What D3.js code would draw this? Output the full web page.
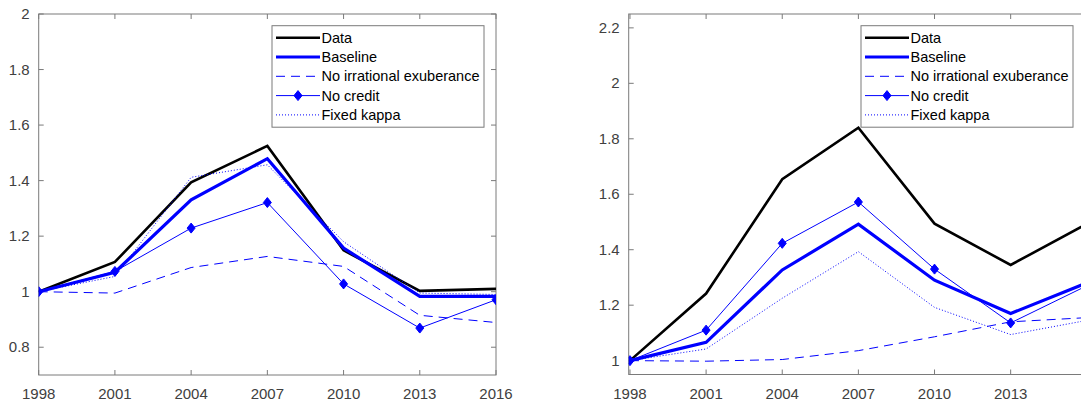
<!DOCTYPE html>
<html>
<head>
<meta charset="utf-8">
<script src="https://cdn.jsdelivr.net/npm/d3@7"></script>
<style>
  body { margin: 0; background: #fff; }
  svg { display: block; font-family: "Liberation Sans", Arial, Helvetica, sans-serif; }
</style>
</head>
<body>
<div id="chart"></div>
<script>
const years = [1998, 2001, 2004, 2007, 2010, 2013, 2016];
const seriesNames = ["Data", "Baseline", "No irrational exuberance", "No credit", "Fixed kappa"];

// left panel
const leftData = [1.0, 1.107, 1.394, 1.525, 1.149, 1.003, 1.01];
const leftBaseline = [1.0, 1.07, 1.331, 1.479, 1.157, 0.983, 0.983];
const leftNoExuberance = [1.0, 0.995, 1.087, 1.127, 1.091, 0.915, 0.889];
const leftNoCredit = [1.0, 1.073, 1.229, 1.321, 1.028, 0.869, 0.971];
const leftFixedKappa = [1.0, 1.055, 1.412, 1.457, 1.18, 0.995, 0.99];
const leftYTicks = [0.8, 1, 1.2, 1.4, 1.6, 1.8, 2];

// right panel
const rightData = [1.0, 1.242, 1.654, 1.84, 1.494, 1.345, 1.493];
const rightBaseline = [1.0, 1.066, 1.327, 1.492, 1.29, 1.17, 1.28];
const rightNoExuberance = [1.0, 0.998, 1.004, 1.036, 1.086, 1.14, 1.155];
const rightNoCredit = [1.0, 1.11, 1.423, 1.572, 1.33, 1.136, 1.27];
const rightFixedKappa = [1.0, 1.042, 1.225, 1.393, 1.192, 1.094, 1.145];
const rightYTicks = [1, 1.2, 1.4, 1.6, 1.8, 2, 2.2];

const xTicks = [1998, 2001, 2004, 2007, 2010, 2013, 2016];

const blue = "#0000ff";
const styles = [
    { color: "#000", width: 2.6, dash: null, marker: false },
    { color: blue, width: 3.2, dash: null, marker: false },
    { color: blue, width: 1, dash: "9,6", marker: false },
    { color: blue, width: 1, dash: null, marker: true },
    { color: blue, width: 1, dash: "1,2", marker: false }
];

const pageWidth = 1081;

const svg = d3.select("#chart")
    .append("svg")
    .attr("width", pageWidth)
    .attr("height", 407);

const diamond = "M0,-5L4,0L0,5L-4,0Z";

function createLineChart(config) {
    const { left, right, top, bottom, xlim, ylim, yTicks, series, legend } = config;

    const x = d3.scaleLinear().domain(xlim).range([left, right]);
    const y = d3.scaleLinear().domain(ylim).range([bottom, top]);

    const g = svg.append("g");

    const clipId = "clip" + Math.round(left);
    g.append("clipPath").attr("id", clipId)
        .append("rect")
        .attr("x", left).attr("y", top)
        .attr("width", right - left).attr("height", bottom - top);

    // tick marks inside the box, on all four sides
    const tickLen = 5;
    g.append("g")
        .attr("stroke", "#7a7a7a")
        .selectAll("g")
        .data(xTicks)
        .join(enter => {
            const sel = enter.append("g");
            sel.append("line").attr("x1", d => x(d)).attr("x2", d => x(d)).attr("y1", bottom).attr("y2", bottom - tickLen);
            sel.append("line").attr("x1", d => x(d)).attr("x2", d => x(d)).attr("y1", top).attr("y2", top + tickLen);
            return sel;
        });
    g.append("g")
        .attr("stroke", "#7a7a7a")
        .selectAll("g")
        .data(yTicks)
        .join(enter => {
            const sel = enter.append("g");
            sel.append("line").attr("y1", d => y(d)).attr("y2", d => y(d)).attr("x1", left).attr("x2", left + tickLen);
            sel.append("line").attr("y1", d => y(d)).attr("y2", d => y(d)).attr("x1", right).attr("x2", right - tickLen);
            return sel;
        });

    g.append("rect")
        .attr("x", left).attr("y", top)
        .attr("width", right - left).attr("height", bottom - top)
        .attr("fill", "none")
        .attr("stroke", "#7a7a7a")
        .attr("stroke-width", 1);

    // labels whose tick falls off the page are not shown (as in the original crop)
    g.append("g")
        .selectAll("text")
        .data(xTicks.filter(d => x(d) + 16 < pageWidth))
        .join("text")
        .attr("x", d => x(d))
        .attr("y", bottom + 24)
        .attr("text-anchor", "middle")
        .attr("font-size", 15)
        .attr("fill", "#404040")
        .text(d => d);

    g.append("g")
        .selectAll("text")
        .data(yTicks)
        .join("text")
        .attr("x", left - 9)
        .attr("y", d => y(d) + 5)
        .attr("text-anchor", "end")
        .attr("font-size", 15)
        .attr("fill", "#404040")
        .text(d => d3.format("~g")(d));

    const line = d3.line()
        .x((d, i) => x(years[i]))
        .y(d => y(d));

    const plot = g.append("g").attr("clip-path", `url(#${clipId})`);

    series.forEach((values, k) => {
        const st = styles[k];
        plot.append("path")
            .datum(values)
            .attr("d", line)
            .attr("fill", "none")
            .attr("stroke", st.color)
            .attr("stroke-width", st.width)
            .attr("stroke-dasharray", st.dash)
            .attr("stroke-linejoin", "miter");
        if (st.marker) {
            plot.append("g")
                .selectAll("path")
                .data(values)
                .join("path")
                .attr("d", diamond)
                .attr("transform", (d, i) => `translate(${x(years[i])},${y(d)})`)
                .attr("fill", st.color)
                .attr("stroke", st.color);
        }
    });

    // legend
    const lg = g.append("g").attr("transform", `translate(${legend.x},${legend.y})`);
    lg.append("rect")
        .attr("width", legend.w).attr("height", 101.5)
        .attr("fill", "#fff")
        .attr("stroke", "#7a7a7a");

    seriesNames.forEach((name, k) => {
        const st = styles[k];
        const cy = 12 + k * 19.3;
        lg.append("line")
            .attr("x1", 4).attr("x2", 48)
            .attr("y1", cy).attr("y2", cy)
            .attr("stroke", st.color)
            .attr("stroke-width", st.width)
            .attr("stroke-dasharray", st.dash);
        if (st.marker) {
            lg.append("path")
                .attr("d", diamond)
                .attr("transform", `translate(26,${cy})`)
                .attr("fill", st.color)
                .attr("stroke", st.color);
        }
        lg.append("text")
            .attr("x", 49.5)
            .attr("y", cy + 5)
            .attr("font-size", 14.5)
            .attr("fill", "#000")
            .text(name);
    });
}

createLineChart({
    left: 38.7, right: 496, top: 14, bottom: 375,
    xlim: [1998, 2016], ylim: [0.7, 2], yTicks: leftYTicks,
    series: [leftData, leftBaseline, leftNoExuberance, leftNoCredit, leftFixedKappa],
    legend: { x: 272, y: 25.7, w: 212 }
});

createLineChart({
    left: 628.7, right: 1086.8, top: 14, bottom: 374.5,
    xlim: [1997.95, 2016], ylim: [0.95, 2.25], yTicks: rightYTicks,
    series: [rightData, rightBaseline, rightNoExuberance, rightNoCredit, rightFixedKappa],
    legend: { x: 861, y: 25.7, w: 212 }
});
</script>
</body>
</html>
